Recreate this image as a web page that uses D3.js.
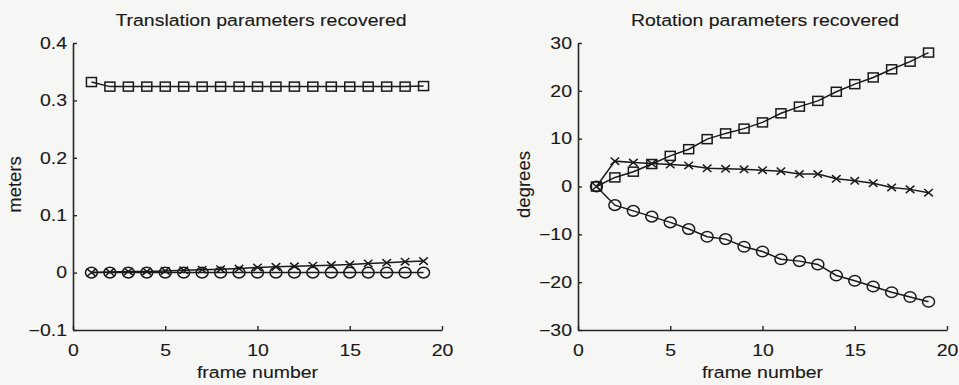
<!DOCTYPE html>
<html>
<head>
<meta charset="utf-8">
<script src="https://cdn.jsdelivr.net/npm/d3@7"></script>
<style>
  html, body { margin: 0; padding: 0; background: #f6f6f4; }
  svg { display: block; }
  text { font-family: "Liberation Sans", Arial, Helvetica, sans-serif; fill: #1a1a1a; stroke: #1a1a1a; stroke-width: 0.12px; }
</style>
</head>
<body>
<div id="chart"></div>
<script>
// dados
const frames = d3.range(1, 20); // 1..19

// translação (metros)
const transSquare = [0.332, 0.324, 0.324, 0.324, 0.324, 0.324, 0.324, 0.324, 0.324, 0.324,
  0.324, 0.324, 0.324, 0.324, 0.324, 0.324, 0.324, 0.324, 0.325];
const transCross = [0, 0.001, 0.002, 0.002, 0.003, 0.004, 0.005, 0.006, 0.007, 0.009,
  0.010, 0.011, 0.012, 0.013, 0.014, 0.016, 0.017, 0.019, 0.020];
const transCircle = [0, 0, 0, 0, 0, 0, 0, 0, 0, 0, 0, 0, 0, 0, 0, 0, 0, 0, 0];

// rotação (graus)
const rotSquare = [0, 1.9, 3.1, 4.7, 6.4, 7.8, 9.9, 11.1, 12.1, 13.4,
  15.3, 16.7, 17.9, 19.8, 21.4, 22.8, 24.5, 26.1, 28.0];
const rotCross = [0, 5.3, 5.0, 4.8, 4.6, 4.4, 3.8, 3.7, 3.6, 3.4,
  3.2, 2.6, 2.6, 1.6, 1.2, 0.7, -0.2, -0.6, -1.3];
const rotCircle = [0, -3.9, -5.1, -6.3, -7.5, -8.9, -10.5, -11.0, -12.6, -13.6,
  -15.2, -15.6, -16.3, -18.6, -19.7, -20.9, -22.1, -23.1, -24.1];

// ticks
const xTicks = [0, 5, 10, 15, 20];
const transTicks = [-0.1, 0, 0.1, 0.2, 0.3, 0.4];
const rotTicks = [-30, -20, -10, 0, 10, 20, 30];

const W = 959, H = 385;
const sx = 1.18;      // a imagem original é esticada na horizontal
const fs = 16.5;
const ink = "#1a1a1a";
const sw = 1.5;

const svg = d3.select("#chart").append("svg")
  .attr("width", W).attr("height", H);

const panels = [
  {
    title: "Translation parameters recovered", titleX: 261, ylabel: "meters", ylabelX: 21,
    left: 73, right: 442, yDomain: [-0.1, 0.4], yTicks: transTicks,
    series: [
      { values: transSquare, marker: "square" },
      { values: transCross, marker: "cross" },
      { values: transCircle, marker: "circle" },
    ],
  },
  {
    title: "Rotation parameters recovered", titleX: 765, ylabel: "degrees", ylabelX: 530,
    left: 578, right: 947, yDomain: [-30, 30], yTicks: rotTicks,
    series: [
      { values: rotSquare, marker: "square" },
      { values: rotCross, marker: "cross" },
      { values: rotCircle, marker: "circle" },
    ],
  },
];

const plotTop = 43, plotBottom = 330;

panels.forEach(p => {
  const x = d3.scaleLinear().domain([0, 20]).range([p.left, p.right]);
  const y = d3.scaleLinear().domain(p.yDomain).range([plotBottom, plotTop]);
  const fmt = d3.format("");

  // eixo X (ticks para dentro)
  const gx = svg.append("g")
    .attr("transform", `translate(0,${plotBottom})`)
    .call(d3.axisBottom(x).tickValues(xTicks).tickSize(-4).tickSizeOuter(0).tickPadding(8).tickFormat(fmt));

  // eixo Y
  const gy = svg.append("g")
    .attr("transform", `translate(${p.left},0)`)
    .call(d3.axisLeft(y).tickValues(p.yTicks).tickSize(-4).tickSizeOuter(0).tickPadding(6).tickFormat(fmt));

  [gx, gy].forEach(g => {
    g.select(".domain").attr("stroke", "#262626").attr("stroke-width", 1.6);
    g.selectAll(".tick line").attr("stroke", "#262626").attr("stroke-width", 1.4);
    g.selectAll(".tick text").attr("fill", ink).style("font-size", fs + "px")
      .style("font-family", '"Liberation Sans", Arial, sans-serif');
  });
  gx.selectAll(".tick text").attr("y", 0).attr("dy", 0)
    .attr("transform", `translate(0,26) scale(${sx},1)`);
  gy.selectAll(".tick text").attr("x", 0)
    .attr("transform", `translate(-6,0) scale(${sx},1)`);

  // título
  svg.append("text")
    .attr("transform", `translate(${p.titleX},26) scale(${sx},1)`)
    .attr("text-anchor", "middle").style("font-size", fs + "px")
    .text(p.title);

  // rótulo X
  svg.append("text")
    .attr("transform", `translate(${(p.left + p.right) / 2},378) scale(${sx},1)`)
    .attr("text-anchor", "middle").style("font-size", fs + "px")
    .text("frame number");

  // rótulo Y
  svg.append("text")
    .attr("transform", `translate(${p.ylabelX},${(plotTop + plotBottom) / 2 - 2}) rotate(-90)`)
    .attr("text-anchor", "middle").style("font-size", "18.5px")
    .text(p.ylabel);

  // séries
  const line = d3.line().x((d, i) => x(frames[i])).y(d => y(d));

  p.series.forEach(s => {
    svg.append("path")
      .datum(s.values)
      .attr("d", line)
      .attr("fill", "none")
      .attr("stroke", ink)
      .attr("stroke-width", sw);

    const pts = svg.append("g").selectAll("g")
      .data(s.values)
      .join("g")
      .attr("transform", (d, i) => `translate(${x(frames[i])},${y(d)})`);

    if (s.marker === "square") {
      pts.append("rect")
        .attr("x", -5).attr("y", -4.5).attr("width", 10).attr("height", 9)
        .attr("fill", "none").attr("stroke", ink).attr("stroke-width", sw);
    } else if (s.marker === "circle") {
      pts.append("ellipse")
        .attr("rx", 6).attr("ry", 5.3)
        .attr("fill", "none").attr("stroke", ink).attr("stroke-width", sw);
    } else {
      pts.append("path")
        .attr("d", "M-4.3,-3.7L4.3,3.7M-4.3,3.7L4.3,-3.7")
        .attr("fill", "none").attr("stroke", ink).attr("stroke-width", sw);
    }
  });
});
</script>
</body>
</html>
